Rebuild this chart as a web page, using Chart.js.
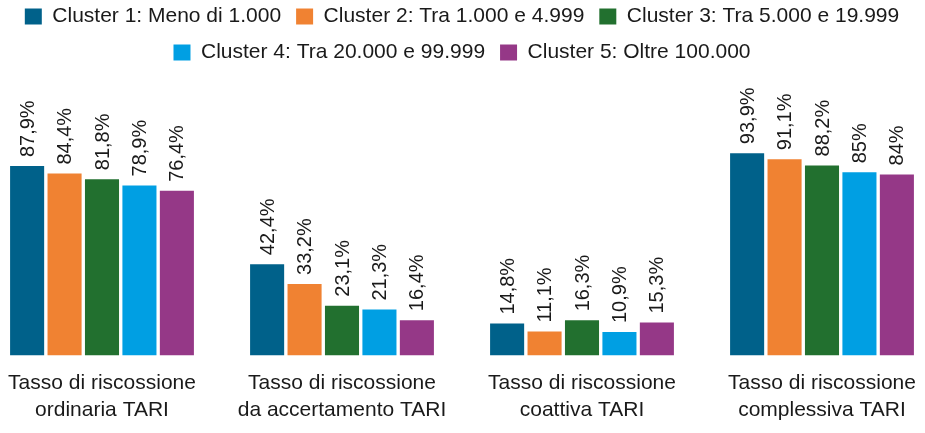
<!DOCTYPE html>
<html lang="it">
<head>
<meta charset="utf-8">
<title>Tassi di riscossione TARI per cluster</title>
<script src="https://cdn.jsdelivr.net/npm/chart.js@4"></script>
<style>
  html, body { margin: 0; padding: 0; background: #fff; overflow: hidden; }
  #wrap { position: relative; width: 925px; height: 433px; overflow: hidden; }
  #taxChart { position: absolute; left: -18px; top: -9px; }
</style>
</head>
<body>
<div id="wrap"><canvas id="taxChart" width="960" height="447"></canvas></div>
<script>
// categories (two lines each)
var categories = [
  ['Tasso di riscossione', 'ordinaria TARI'],
  ['Tasso di riscossione', 'da accertamento TARI'],
  ['Tasso di riscossione', 'coattiva TARI'],
  ['Tasso di riscossione', 'complessiva TARI']
];

var clusterNames = [
  'Cluster 1: Meno di 1.000',
  'Cluster 2: Tra 1.000 e 4.999',
  'Cluster 3: Tra 5.000 e 19.999',
  'Cluster 4: Tra 20.000 e 99.999',
  'Cluster 5: Oltre 100.000'
];

// values per cluster, one per category
var cluster1 = [87.9, 42.4, 14.8, 93.9];
var cluster2 = [84.4, 33.2, 11.1, 91.1];
var cluster3 = [81.8, 23.1, 16.3, 88.2];
var cluster4 = [78.9, 21.3, 10.9, 85];
var cluster5 = [76.4, 16.4, 15.3, 84];

var clusterColors = ['#00618a', '#f08232', '#22702f', '#009fe3', '#953887'];

var fontFamily = '"Liberation Sans", Arial, sans-serif';
var textColor = '#1a1a1a';

function formatPct(v) {
  return String(v).replace('.', ',') + '%';
}

// draws the rotated value above each bar
var valueLabels = {
  id: 'valueLabels',
  afterDatasetsDraw(chart) {
    const ctx = chart.ctx;
    ctx.save();
    ctx.font = '20px ' + fontFamily;
    ctx.fillStyle = textColor;
    ctx.textAlign = 'left';
    ctx.textBaseline = 'middle';
    chart.data.datasets.forEach((ds, i) => {
      chart.getDatasetMeta(i).data.forEach((bar, j) => {
        ctx.save();
        ctx.translate(bar.x + 1, bar.y - 9);
        ctx.rotate(-Math.PI / 2);
        ctx.fillText(formatPct(ds.data[j]), 0, 0);
        ctx.restore();
      });
    });
    ctx.restore();
  }
};

// extra room under the legend
var legendMargin = {
  id: 'legendMargin',
  beforeInit(chart) {
    const fit = chart.legend.fit;
    chart.legend.fit = function () {
      fit.bind(chart.legend)();
      this.height += 67;
    };
  }
};

var seriesData = [cluster1, cluster2, cluster3, cluster4, cluster5];

var ctx = document.getElementById('taxChart').getContext('2d');
var taxChart = new Chart(ctx, {
  type: 'bar',
  data: {
    labels: categories,
    datasets: seriesData.map((d, i) => ({
      label: clusterNames[i],
      data: d,
      backgroundColor: clusterColors[i],
      borderWidth: 0
    }))
  },
  options: {
    responsive: false,
    animation: false,
    categoryPercentage: 0.78,
    barPercentage: 0.91,
    layout: { padding: { left: 0, right: 0, top: 0, bottom: 0 } },
    plugins: {
      legend: {
        position: 'top',
        labels: {
          boxWidth: 17,
          boxHeight: 16,
          padding: 15,
          color: textColor,
          font: { family: fontFamily, size: 21 }
        }
      },
      tooltip: { enabled: false }
    },
    scales: {
      x: {
        grid: { display: false, drawTicks: false },
        border: { display: false },
        ticks: {
          color: textColor,
          padding: 15,
          maxRotation: 0,
          autoSkip: false,
          font: { family: fontFamily, size: 21, lineHeight: 1.25 }
        }
      },
      y: {
        display: false,
        min: 0,
        max: 100
      }
    }
  },
  plugins: [valueLabels, legendMargin]
});
</script>
</body>
</html>
